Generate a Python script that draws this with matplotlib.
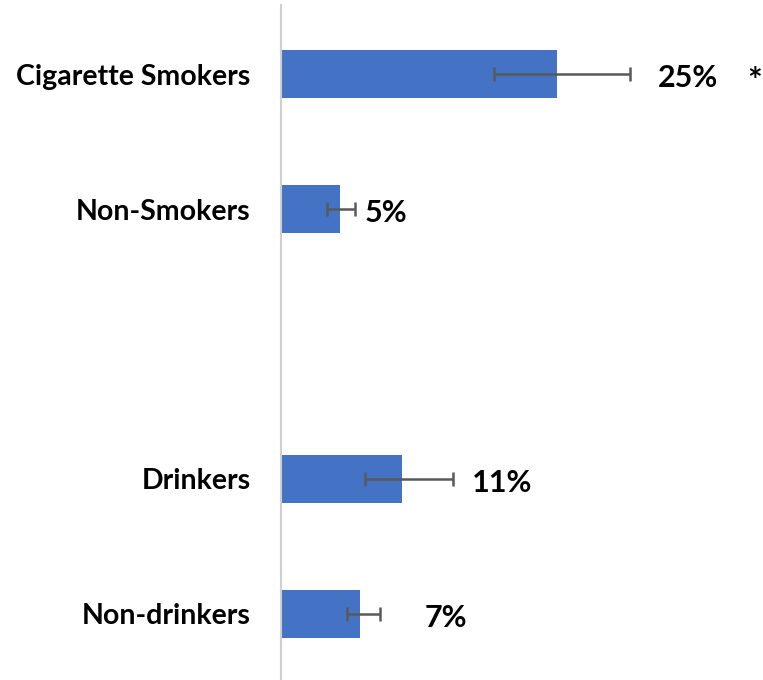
import matplotlib
matplotlib.use("Agg")
import matplotlib.pyplot as plt

categories = ["Cigarette Smokers", "Non-Smokers", "", "Drinkers", "Non-drinkers"]
values = [25, 5.3, None, 11, 7.2]
err_low = [19.3, 4.2, None, 7.6, 6.0]
err_high = [31.6, 6.7, None, 15.6, 9.0]
value_labels = ["25%", "5%", "", "11%", "7%"]
label_x = [34.1, 7.6, None, 17.3, 13.0]

plt.rcParams['font.family'] = ['Lato', 'DejaVu Sans']

fig = plt.figure(figsize=(7.63, 6.80), dpi=100)
ax = fig.add_axes([281/763, 0.0, 1 - 281/763, 1 - 5/680])

bar_color = "#4472C4"
for i, (v, lo, hi, lab, lx) in enumerate(zip(values, err_low, err_high, value_labels, label_x)):
    if v is None:
        continue
    ax.barh(i, v, height=0.355, color=bar_color, zorder=2)
    ax.errorbar(v, i, xerr=[[v - lo], [hi - v]], fmt='none', ecolor="#595959",
                elinewidth=1.8, capsize=5, capthick=1.8, zorder=3)
    ax.text(lx, i + 0.03, lab, ha='left', va='center', fontsize=22,
            fontweight='bold', color='black')

ax.text(42.2, 0.06, "*", ha='left', va='center', fontsize=25, fontweight='bold')

ax.set_xlim(0, 482/11.04)
ax.set_ylim(4.49, -0.513)
ax.set_yticks(range(len(categories)))
ax.set_yticklabels(categories, fontsize=20.5, fontweight='bold')
ax.tick_params(axis='y', length=0, pad=22)
ax.set_xticks([])
for s in ['top', 'right', 'bottom']:
    ax.spines[s].set_visible(False)
ax.spines['left'].set_color("#D0D0D0")
ax.spines['left'].set_linewidth(1.5)

fig.savefig("out.png", dpi=100)
